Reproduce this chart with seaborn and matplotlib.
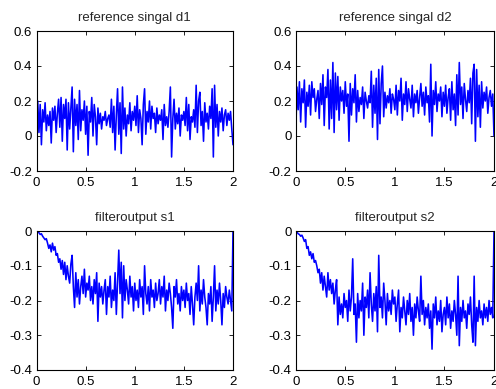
import numpy as np
import pandas as pd
import matplotlib
matplotlib.use("Agg")
import matplotlib.pyplot as plt
import seaborn as sns

titles = ["reference singal d1", "reference singal d2", "filteroutput s1", "filteroutput s2"]

d1 = [0.10, 0.20, 0.02, 0.18, -0.05, 0.15, 0.08, 0.19, 0.03, 0.12,
      0.06, 0.14, -0.04, 0.16, 0.09, 0.17, 0.02, 0.13, 0.21, 0.05,
      0.22, -0.03, 0.18, 0.10, 0.21, -0.08, 0.19, 0.04, 0.16, 0.28,
      -0.09, 0.21, 0.06, 0.18, -0.02, 0.26, 0.03, 0.15, 0.09, 0.20,
      0.01, 0.17, -0.11, 0.14, 0.08, 0.22, 0.00, 0.18, 0.11, -0.05,
      0.16, 0.07, 0.13, 0.04, 0.11, 0.09, 0.14, 0.06, 0.10, 0.12,
      0.05, 0.21, 0.02, 0.17, -0.08, 0.12, 0.27, 0.01, 0.19, -0.10,
      0.28, 0.04, 0.16, 0.00, 0.12, 0.07, 0.19, 0.03, 0.14, 0.09,
      0.17, 0.06, 0.23, 0.02, 0.15, 0.10, -0.05, 0.18, 0.27, 0.01,
      0.14, 0.08, 0.20, 0.04, 0.17, 0.10, 0.13, 0.02, 0.16, 0.07,
      0.12, 0.09, 0.15, -0.02, 0.18, 0.06, 0.11, 0.05, 0.14, 0.28,
      -0.12, 0.10, 0.21, 0.04, 0.13, 0.07, 0.16, 0.00, 0.12, 0.09,
      0.14, 0.06, 0.22, 0.03, 0.18, -0.02, 0.11, 0.08, 0.15, 0.05,
      0.29, 0.02, 0.20, 0.25, 0.06, 0.14, -0.03, 0.19, 0.08, 0.13,
      0.04, 0.17, 0.10, 0.27, -0.12, 0.29, 0.05, 0.18, 0.00, 0.14,
      0.08, 0.16, 0.03, 0.12, 0.15, 0.06, 0.13, 0.09, 0.14, 0.04,
      -0.05]

d2 = [0.00, 0.28, 0.15, 0.31, 0.08, 0.27, 0.19, 0.32, 0.05, 0.25,
      0.17, 0.29, 0.12, 0.31, 0.22, 0.27, 0.14, 0.21, 0.26, 0.10,
      0.30, 0.18, 0.35, 0.06, 0.28, 0.22, 0.38, 0.04, 0.32, 0.10,
      0.42, 0.02, 0.36, 0.15, 0.34, 0.09, 0.28, 0.20, 0.26, 0.13,
      0.31, 0.17, 0.24, -0.03, 0.30, 0.12, 0.27, 0.19, 0.35, 0.08,
      0.26, 0.14, 0.22, 0.18, 0.28, 0.10, 0.25, 0.20, 0.16, 0.23,
      0.19, 0.37, 0.05, 0.29, 0.13, 0.33, -0.02, 0.38, 0.07, 0.30,
      0.40, 0.11, 0.25, 0.16, 0.23, 0.19, 0.27, 0.13, 0.24, 0.21,
      0.15, 0.29, 0.12, 0.26, 0.20, 0.33, 0.09, 0.24, 0.18, 0.31,
      0.14, 0.27, 0.21, 0.16, 0.29, 0.11, 0.24, 0.19, 0.26, 0.13,
      0.22, 0.30, 0.17, 0.25, 0.12, 0.28, 0.19, 0.23, 0.08, 0.41,
      0.00, 0.26, 0.18, 0.31, 0.14, 0.24, 0.20, 0.28, 0.11, 0.25,
      0.17, 0.29, 0.13, 0.22, 0.27, 0.09, 0.31, 0.15, 0.24, 0.06,
      0.35, 0.12, 0.42, 0.18, 0.28, 0.10, 0.30, 0.21, 0.14, 0.26,
      0.19, 0.33, 0.07, 0.36, 0.41, -0.03, 0.38, 0.11, 0.29, 0.05,
      0.31, 0.16, 0.25, 0.20, 0.28, 0.13, 0.22, 0.26, 0.17, 0.24,
      0.00]

s1 = [0.00, -0.002, -0.005, -0.01, -0.008, -0.015, -0.02, -0.025, -0.022, -0.035,
      -0.05, -0.04, -0.06, -0.035, -0.055, -0.045, -0.07, -0.065, -0.09, -0.08,
      -0.11, -0.085, -0.125, -0.09, -0.14, -0.10, -0.13, -0.15, -0.095, -0.07,
      -0.16, -0.22, -0.12, -0.19, -0.14, -0.21, -0.16, -0.13, -0.18, -0.11,
      -0.19, -0.15, -0.17, -0.13, -0.20, -0.16, -0.21, -0.14, -0.18, -0.12,
      -0.26, -0.15, -0.19, -0.16, -0.21, -0.17, -0.14, -0.24, -0.16, -0.19,
      -0.13, -0.22, -0.17, -0.20, -0.12, -0.24, -0.15, -0.055, -0.18, -0.09,
      -0.25, -0.10, -0.20, -0.14, -0.17, -0.21, -0.13, -0.19, -0.16, -0.23,
      -0.15, -0.20, -0.17, -0.22, -0.14, -0.19, -0.16, -0.24, -0.10, -0.18,
      -0.21, -0.16, -0.23, -0.14, -0.19, -0.17, -0.22, -0.15, -0.20, -0.18,
      -0.14, -0.21, -0.16, -0.19, -0.13, -0.23, -0.17, -0.20, -0.15, -0.18,
      -0.22, -0.28, -0.16, -0.19, -0.14, -0.21, -0.18, -0.23, -0.16, -0.20,
      -0.17, -0.22, -0.15, -0.20, -0.18, -0.24, -0.16, -0.21, -0.27, -0.19,
      -0.15, -0.20, -0.10, -0.23, -0.17, -0.21, -0.14, -0.19, -0.22, -0.27,
      -0.18, -0.21, -0.16, -0.26, -0.19, -0.10, -0.23, -0.17, -0.21, -0.15,
      -0.20, -0.27, -0.18, -0.22, -0.16, -0.19, -0.21, -0.17, -0.20, -0.23,
      0.00]

s2 = [0.00, -0.003, -0.008, -0.01, -0.015, -0.012, -0.02, -0.03, -0.025, -0.05,
      -0.045, -0.07, -0.06, -0.08, -0.065, -0.09, -0.085, -0.10, -0.12, -0.11,
      -0.15, -0.12, -0.17, -0.13, -0.16, -0.19, -0.12, -0.17, -0.14, -0.18,
      -0.15, -0.21, -0.17, -0.14, -0.27, -0.19, -0.24, -0.21, -0.25, -0.18,
      -0.22, -0.20, -0.26, -0.17, -0.23, -0.19, -0.08, -0.24, -0.21, -0.32,
      -0.18, -0.25, -0.20, -0.23, -0.15, -0.30, -0.19, -0.22, -0.17, -0.25,
      -0.12, -0.21, -0.26, -0.18, -0.23, -0.16, -0.29, -0.07, -0.22, -0.19,
      -0.25, -0.15, -0.20, -0.27, -0.18, -0.23, -0.20, -0.24, -0.17, -0.21,
      -0.19, -0.26, -0.21, -0.17, -0.29, -0.22, -0.25, -0.19, -0.23, -0.27,
      -0.20, -0.24, -0.18, -0.26, -0.22, -0.30, -0.21, -0.25, -0.19, -0.23,
      -0.26, -0.13, -0.24, -0.20, -0.27, -0.22, -0.25, -0.21, -0.28, -0.23,
      -0.34, -0.21, -0.25, -0.19, -0.27, -0.23, -0.26, -0.20, -0.29, -0.24,
      -0.22, -0.27, -0.19, -0.25, -0.21, -0.28, -0.23, -0.26, -0.20, -0.24,
      -0.30, -0.13, -0.33, -0.22, -0.26, -0.20, -0.25, -0.23, -0.28, -0.21,
      -0.24, -0.19, -0.27, -0.32, -0.13, -0.33, -0.22, -0.26, -0.20, -0.25,
      -0.23, -0.27, -0.21, -0.25, -0.22, -0.26, -0.20, -0.24, -0.22, -0.25,
      0.00]

xticks = [0, 0.5, 1, 1.5, 2]
xticklabels = ["0", "0.5", "1", "1.5", "2"]
top_yticks = [-0.2, 0, 0.2, 0.4, 0.6]
top_yticklabels = ["-0.2", "0", "0.2", "0.4", "0.6"]
bot_yticks = [-0.4, -0.3, -0.2, -0.1, 0]
bot_yticklabels = ["-0.4", "-0.3", "-0.2", "-0.1", "0"]

sns.set_style("ticks")
plt.rcParams["font.family"] = ["Liberation Sans", "DejaVu Sans"]
plt.rcParams["font.size"] = 9.5

fig = plt.figure(figsize=(4.96, 3.89), dpi=100)
W, H = 496.0, 389.0
boxes = [
    (36.5, 31, 233, 171),
    (295.7, 31, 494, 171),
    (36.5, 231, 233, 370),
    (295.7, 231, 494, 370),
]
series = [d1, d2, s1, s2]

for i, (x0, y0, x1, y1) in enumerate(boxes):
    ax = fig.add_axes([x0 / W, 1 - y1 / H, (x1 - x0) / W, (y1 - y0) / H])
    vals = series[i]
    t = np.linspace(0, 2, len(vals))
    df = pd.DataFrame({"t": t, "v": vals})
    sns.lineplot(data=df, x="t", y="v", ax=ax, color=(0, 0, 1), linewidth=1.15,
                 estimator=None, sort=False)
    ax.set_xlim(0, 2)
    ax.set_xticks(xticks)
    ax.set_xticklabels(xticklabels)
    if i < 2:
        ax.set_ylim(-0.2, 0.6)
        ax.set_yticks(top_yticks)
        ax.set_yticklabels(top_yticklabels)
    else:
        ax.set_ylim(-0.4, 0)
        ax.set_yticks(bot_yticks)
        ax.set_yticklabels(bot_yticklabels)
    ax.set_xlabel("")
    ax.set_ylabel("")
    ax.set_title(titles[i], fontsize=9.5, pad=7.5)
    ax.tick_params(direction="in", top=True, right=True, length=3, width=0.6,
                   labelsize=9.5, colors="black")
    ax.tick_params(axis="x", pad=4)
    ax.tick_params(axis="y", pad=3)
    for sp in ax.spines.values():
        sp.set_visible(True)
        sp.set_color("black")
        sp.set_linewidth(0.8)

fig.savefig("out.png", dpi=100)
